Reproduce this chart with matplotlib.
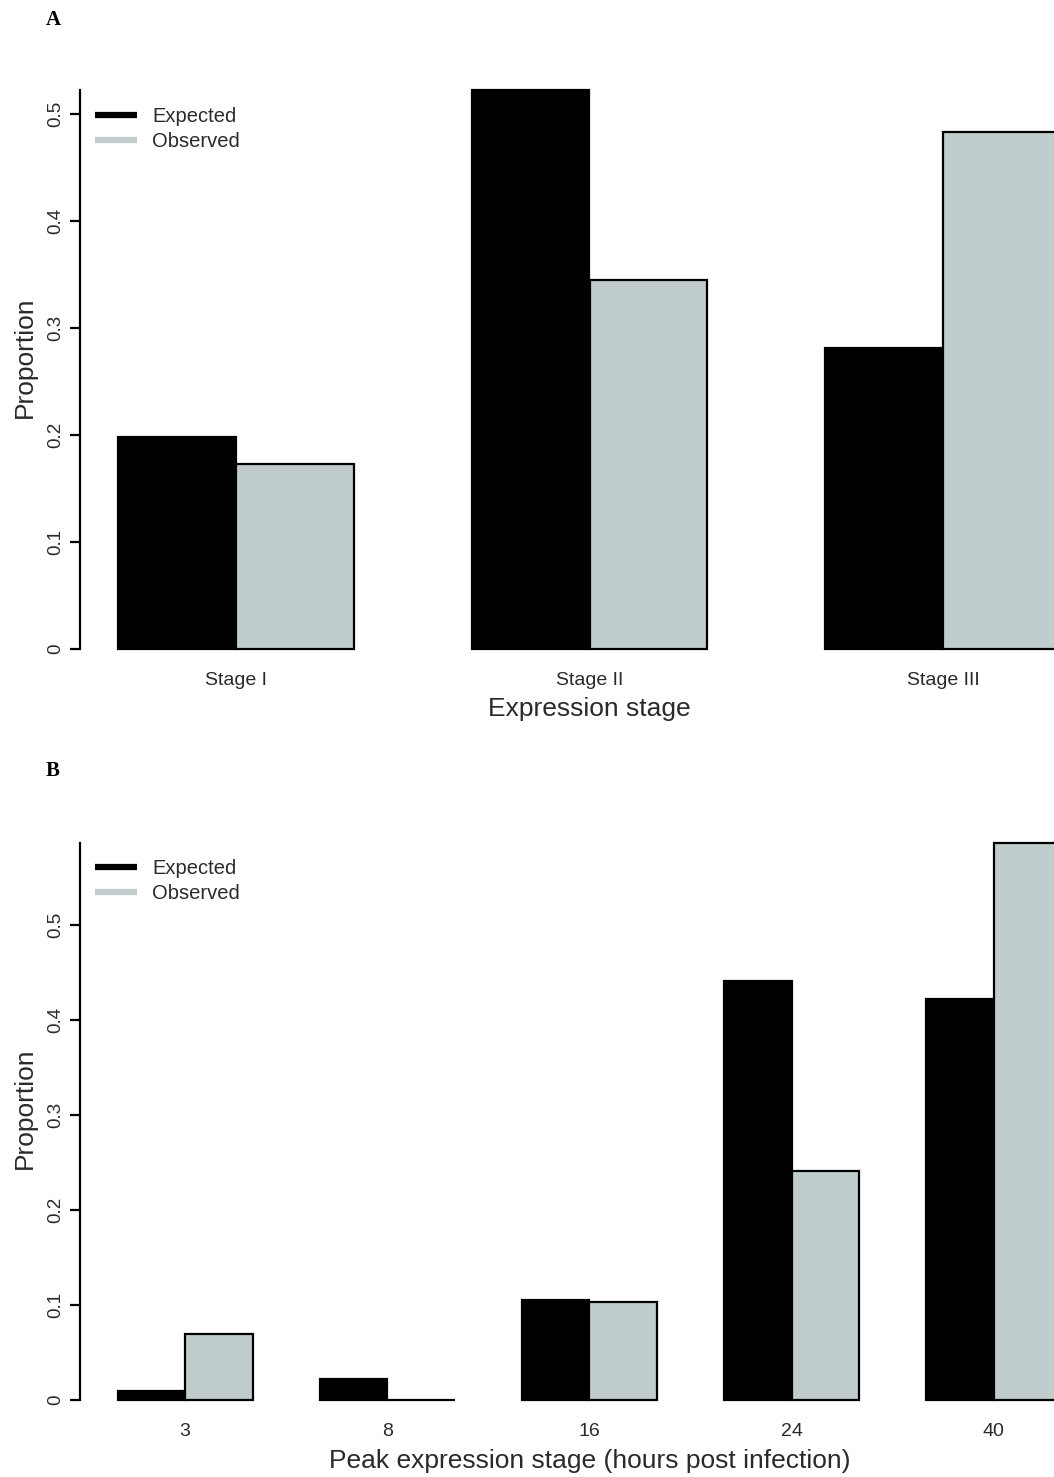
import matplotlib
matplotlib.use("Agg")
import matplotlib.pyplot as plt
from matplotlib.lines import Line2D

plt.rcParams['font.family'] = ['Liberation Sans', 'DejaVu Sans']

# Panel A data
stages_a = ['Stage I', 'Stage II', 'Stage III']
expected_a = [0.198, 0.522, 0.281]
observed_a = [0.173, 0.345, 0.483]

# Panel B data
hours_b = ['3', '8', '16', '24', '40']
expected_b = [0.0095, 0.022, 0.105, 0.441, 0.422]
observed_b = [0.069, 0.0, 0.103, 0.241, 0.586]

W, H = 1054, 1477
GRAY = '#C1CDCD'
TXT = '#2a2a2a'


def px_axes(fig, left, right, y0, ppu, ylo, yhi):
    # place axes from pixel coordinates (y0 = pixel row of value 0, ppu = pixels per unit)
    top = y0 - yhi * ppu
    bottom = y0 - ylo * ppu
    return fig.add_axes([left / W, 1 - bottom / H, (right - left) / W, (bottom - top) / H])


def draw_panel(ax, labels, exp, obs, xlabel, ymax_axis, ticks, ylim, leg_top, xpad):
    n = len(labels)
    lefts_e = [1 + 3 * i for i in range(n)]
    lefts_o = [2 + 3 * i for i in range(n)]
    ax.bar(lefts_e, exp, width=1, align='edge', color='black', edgecolor='black', linewidth=1.6)
    ax.bar(lefts_o, obs, width=1, align='edge', color=GRAY, edgecolor='black', linewidth=1.6)
    lo, hi = 1, 3 * n
    ext = (hi - lo) * 0.04
    ax.set_xlim(lo - ext, hi + ext)
    ax.set_ylim(*ylim)
    for s in ['top', 'right', 'bottom']:
        ax.spines[s].set_visible(False)
    ax.spines['left'].set_bounds(0, ymax_axis)
    ax.spines['left'].set_linewidth(1.6)
    ax.set_yticks(ticks)
    ax.set_yticklabels(['0' if t == 0 else f'{t:g}' for t in ticks], rotation=90, va='center',
                       fontsize=13.5, color=TXT)
    ax.tick_params(axis='y', length=7, width=1.6, pad=4)
    ax.set_xticks([2 + 3 * i for i in range(n)])
    ax.set_xticklabels(labels, fontsize=14, color=TXT)
    ax.tick_params(axis='x', length=0, pad=xpad)
    ax.set_xlabel(xlabel, fontsize=19, color=TXT, labelpad=6)
    ax.set_ylabel('Proportion', fontsize=19, color=TXT, labelpad=8)
    ax.patch.set_visible(False)
    handles = [Line2D([], [], color='black', lw=4.5, solid_capstyle='butt'),
               Line2D([], [], color=GRAY, lw=4.5, solid_capstyle='butt')]
    ax.legend(handles, ['Expected', 'Observed'], loc='upper left', frameon=False,
              fontsize=14.5, handlelength=2.1, handletextpad=0.75, labelspacing=0.3,
              borderaxespad=0, borderpad=0, labelcolor=TXT,
              bbox_to_anchor=(95 / W, 1 - leg_top / H), bbox_transform=fig.transFigure)


fig = plt.figure(figsize=(W / 100, H / 100), dpi=100)

ax_a = px_axes(fig, 80, 1099, 649, 1070, -0.005, 0.55)
draw_panel(ax_a, stages_a, expected_a, observed_a, 'Expression stage', max(expected_a),
           [0, 0.1, 0.2, 0.3, 0.4, 0.5], (-0.005, 0.55), 107, 12.5)

ax_b = px_axes(fig, 80, 1099, 1400, 950, -0.005, 0.62)
draw_panel(ax_b, hours_b, expected_b, observed_b, 'Peak expression stage (hours post infection)',
           max(observed_b), [0, 0.1, 0.2, 0.3, 0.4, 0.5], (-0.005, 0.62), 859, 13.5)

fig.text(46 / W, 1 - 20 / H, 'A', family='Liberation Serif', weight='bold', fontsize=15, va='center')
fig.text(46 / W, 1 - 771 / H, 'B', family='Liberation Serif', weight='bold', fontsize=15, va='center')

fig.savefig('out.png', dpi=100)
